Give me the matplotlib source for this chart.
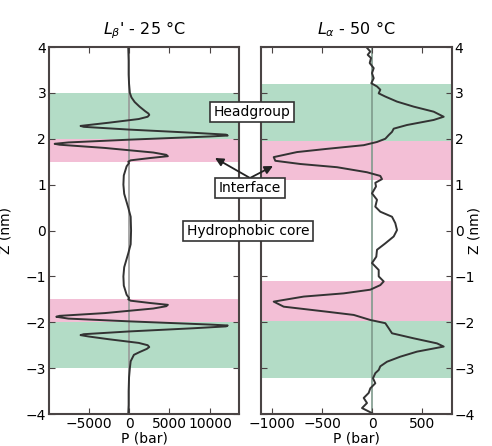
import matplotlib
matplotlib.use('Agg')
import matplotlib.pyplot as plt

# Lbeta' (25 C): z (nm) and lateral pressure P (bar)
z_gel = [4.0, 3.7, 3.4, 3.2, 3.0, 2.9, 2.8, 2.7, 2.6, 2.55, 2.52, 2.48, 2.43,
         2.35, 2.3, 2.28, 2.26, 2.2, 2.13, 2.09, 2.07, 2.05, 1.98, 1.92, 1.89,
         1.87, 1.8, 1.7, 1.65, 1.62, 1.58, 1.53, 1.5, 1.47, 1.4, 1.2, 1.0, 0.8,
         0.5, 0.3, 0.0, -0.3, -0.5, -0.8, -1.0, -1.2, -1.4, -1.47, -1.5, -1.53,
         -1.58, -1.62, -1.65, -1.7, -1.8, -1.86, -1.88, -1.92, -1.98, -2.05,
         -2.07, -2.09, -2.13, -2.2, -2.26, -2.28, -2.31, -2.37, -2.45, -2.5,
         -2.54, -2.58, -2.65, -2.71, -2.85, -3.0, -3.2, -3.5, -3.8, -4.0]
p_gel = [-100, -50, -50, 0, 100, 300, 700, 1300, 2000, 2400, 2500, 2300, 1200,
         -2500, -5000, -6000, -5600, 0, 8000, 12000, 12200, 10000, 0, -7500,
         -9200, -8600, -3000, 3000, 4600, 4800, 2600, 200, -100, 0, -300, -650,
         -700, -600, -100, 200, 250, 200, -100, -600, -700, -650, -300, 0, -100,
         200, 2600, 4800, 4600, 3000, -3000, -8600, -9000, -7500, 0, 10000,
         12200, 12000, 8000, 0, -5600, -6000, -5000, -2500, 1200, 2300, 2500,
         2200, 1300, 600, 200, 100, 0, -50, -50, -100]

# Lalpha (50 C)
z_fluid = [4.0, 3.9, 3.83, 3.76, 3.65, 3.54, 3.43, 3.32, 3.21, 3.14, 3.07,
           2.99, 2.92, 2.81, 2.7, 2.59, 2.48, 2.41, 2.3, 2.22, 2.15, 2.08, 2.0,
           1.93, 1.86, 1.78, 1.71, 1.6, 1.52, 1.45, 1.38, 1.27, 1.19, 1.12,
           1.04, 0.96, 0.81, 0.67, 0.52, 0.41, 0.3, 0.16, 0.01, -0.13, -0.28,
           -0.42, -0.57, -0.71, -0.86, -1.0, -1.11, -1.19, -1.29, -1.37, -1.44,
           -1.55, -1.66, -1.77, -1.84, -1.95, -2.02, -2.13, -2.24, -2.35, -2.46,
           -2.53, -2.64, -2.75, -2.86, -2.96, -3.04, -3.11, -3.22, -3.33, -3.44,
           -3.54, -3.65, -3.76, -3.87, -3.98]
p_fluid = [-57, -17, -43, -10, -23, 17, 0, 17, -7, 50, 83, 67, 133, 250, 417,
           617, 717, 617, 350, 217, 200, 167, 133, 50, -83, -450, -750, -983,
           -967, -717, -350, -50, 83, 100, 33, 40, 0, 50, 33, 83, 200, 233, 250,
           217, 133, 50, 43, 0, 67, 67, 117, 83, -17, -283, -683, -983, -883,
           -450, -183, -17, 133, 167, 200, 417, 650, 717, 450, 283, 150, 83, 67,
           33, 10, 33, -17, -33, -83, -50, -100, 0]

# band limits (nm)
bands_gel = [(2.0, 3.0, 'green'), (1.5, 2.0, 'pink'),
             (-2.0, -1.5, 'pink'), (-3.0, -2.0, 'green')]
bands_fluid = [(1.95, 3.2, 'green'), (1.1, 1.95, 'pink'),
               (-1.97, -1.1, 'pink'), (-3.22, -1.97, 'green')]
band_colours = {'green': '#b3dcc6', 'pink': '#f3bfd6'}

edge = '#4a4444'
plt.rcParams['font.size'] = 10

fig = plt.figure(figsize=(4.92, 4.46), dpi=100)
ax1 = fig.add_axes([0.0996, 0.0717, 0.3862, 0.8229])
ax2 = fig.add_axes([0.5305, 0.0717, 0.3882, 0.8229])

for ax, zz, pp, bands, zc in [(ax1, z_gel, p_gel, bands_gel, '#999999'),
                              (ax2, z_fluid, p_fluid, bands_fluid, '#7f9a8c')]:
    for lo, hi, c in bands:
        ax.axhspan(lo, hi, color=band_colours[c], lw=0, zorder=0)
    ax.axvline(0, color=zc, lw=1.2, zorder=1)
    ax.plot(pp, zz, color='#333333', lw=1.4, zorder=2)
    ax.set_ylim(-4, 4)
    ax.set_yticks(range(-4, 5))
    ax.tick_params(direction='in', top=True, right=True, length=4,
                   color=edge, labelsize=10, pad=2)
    for s in ax.spines.values():
        s.set_color(edge)
        s.set_linewidth(1.5)
    ax.set_xlabel('P (bar)')
    ax.xaxis.set_label_coords(0.5, -0.066)
    ax.xaxis.label.set_va('center')
    ax.set_ylabel('Z (nm)')

ax1.set_xlim(-9900, 13600)
ax1.set_xticks([-5000, 0, 5000, 10000])
ax1.set_title(r"$L_{\beta}$' - 25 °C", fontsize=11.5, pad=9)
ax1.yaxis.set_label_coords(-0.19, 0.5)

ax2.set_xlim(-1110, 800)
ax2.set_xticks([-1000, -500, 0, 500])
ax2.yaxis.set_label_position('right')
ax2.tick_params(labelleft=False, labelright=True)
ax2.set_ylabel('Z (nm)', rotation=90, va='center')
ax2.yaxis.set_label_coords(1.12, 0.5)
ax2.set_title(r"$L_{\alpha}$ - 50 °C", fontsize=11.5, pad=9)

box = dict(boxstyle='square,pad=0.25', fc='white', ec='#333333', lw=1.2)
W, H = 492.0, 446.0
fig.text(252 / W, 1 - 112 / H, 'Headgroup', ha='center', va='center', bbox=box, zorder=5)
fig.text(250 / W, 1 - 188 / H, 'Interface', ha='center', va='center', bbox=box, zorder=5)
fig.text(248 / W, 1 - 231 / H, 'Hydrophobic core', ha='center', va='center', bbox=box, zorder=5)

for tx, ty in [(215, 158), (273, 166)]:
    fig.add_artist(matplotlib.patches.FancyArrowPatch(
        (250 / W, 1 - 178 / H), (tx / W, 1 - ty / H),
        transform=fig.transFigure, arrowstyle='-|>', mutation_scale=12,
        color='#222222', lw=1.3, shrinkA=0, shrinkB=0, zorder=4))

fig.savefig('out.png', dpi=100)
